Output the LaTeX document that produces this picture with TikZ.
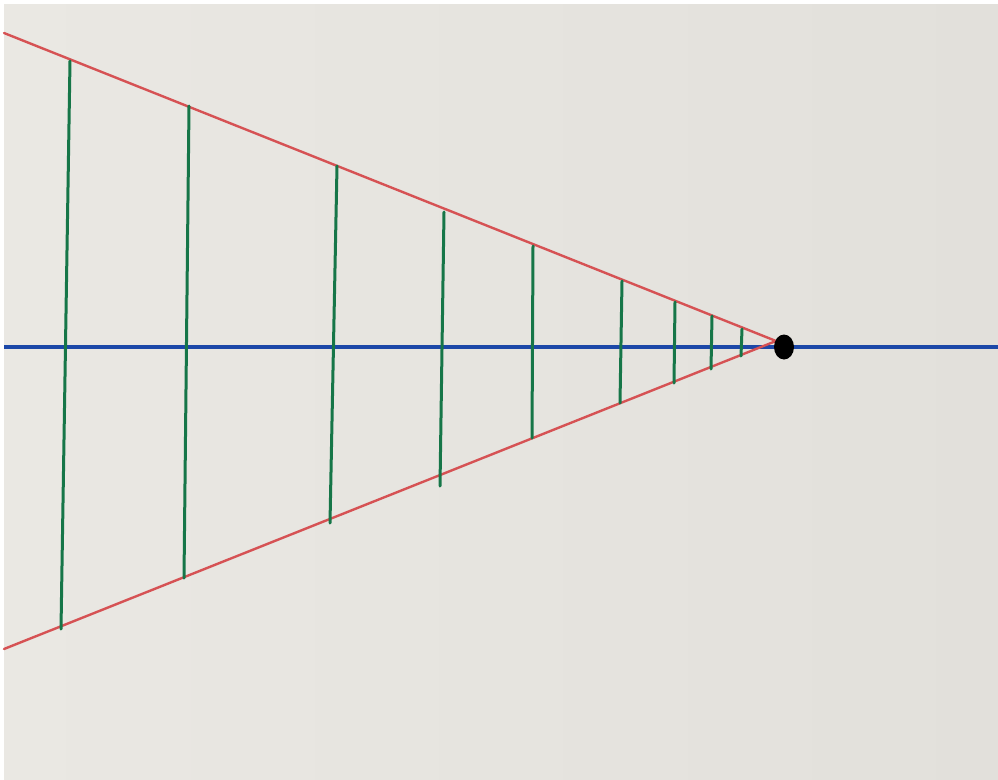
\documentclass[tikz,border=0pt]{standalone}
\begin{document}
\begin{tikzpicture}[x=1pt,y=-1pt,
  redline/.style={draw=redC,line width=2.4pt,line cap=round},
  blueline/.style={draw=blueC,line width=3.4pt},
  greenline/.style={draw=greenC,line width=3pt,line cap=round}]
\definecolor{paperC}{RGB}{226,224,219}
\definecolor{paperL}{RGB}{234,232,227}
\definecolor{redC}{RGB}{214,82,84}
\definecolor{blueC}{RGB}{28,72,168}
\definecolor{greenC}{RGB}{22,118,72}
\useasboundingbox (0,0) rectangle (998,779);
\fill[white] (0,0) rectangle (998,779);
\shade[left color=paperL,right color=paperC] (4,4) rectangle (998,779);
% blue horizon
\coordinate (bl) at (4,347);
\coordinate (br) at (998,347);
\draw[blueline] (bl) -- (br);
% red converging lines
\coordinate (vp0) at (776,341);
\coordinate (rt) at (4,33);
\coordinate (rb) at (4,649);
\draw[redline] (rt) -- (vp0);
\draw[redline] (rb) -- (vp0);
% green verticals
\foreach \i/\xa/\ya/\xb/\yb in {1/70/61/61/629, 2/189/106/184/578, 3/337/166/330/523,
  4/444/212/440/486, 5/533/246/532/438, 6/622/281/620/403, 7/675/302/674/383,
  8/712/316/711/369, 9/742/329/741/356}{
  \coordinate (g\i t) at (\xa,\ya);
  \coordinate (g\i b) at (\xb,\yb);
  \draw[greenline] (g\i t) -- (g\i b);
}
% vanishing point dot
\fill[black] (784,347) ellipse [x radius=10, y radius=12.5];
\end{tikzpicture}
\end{document}
